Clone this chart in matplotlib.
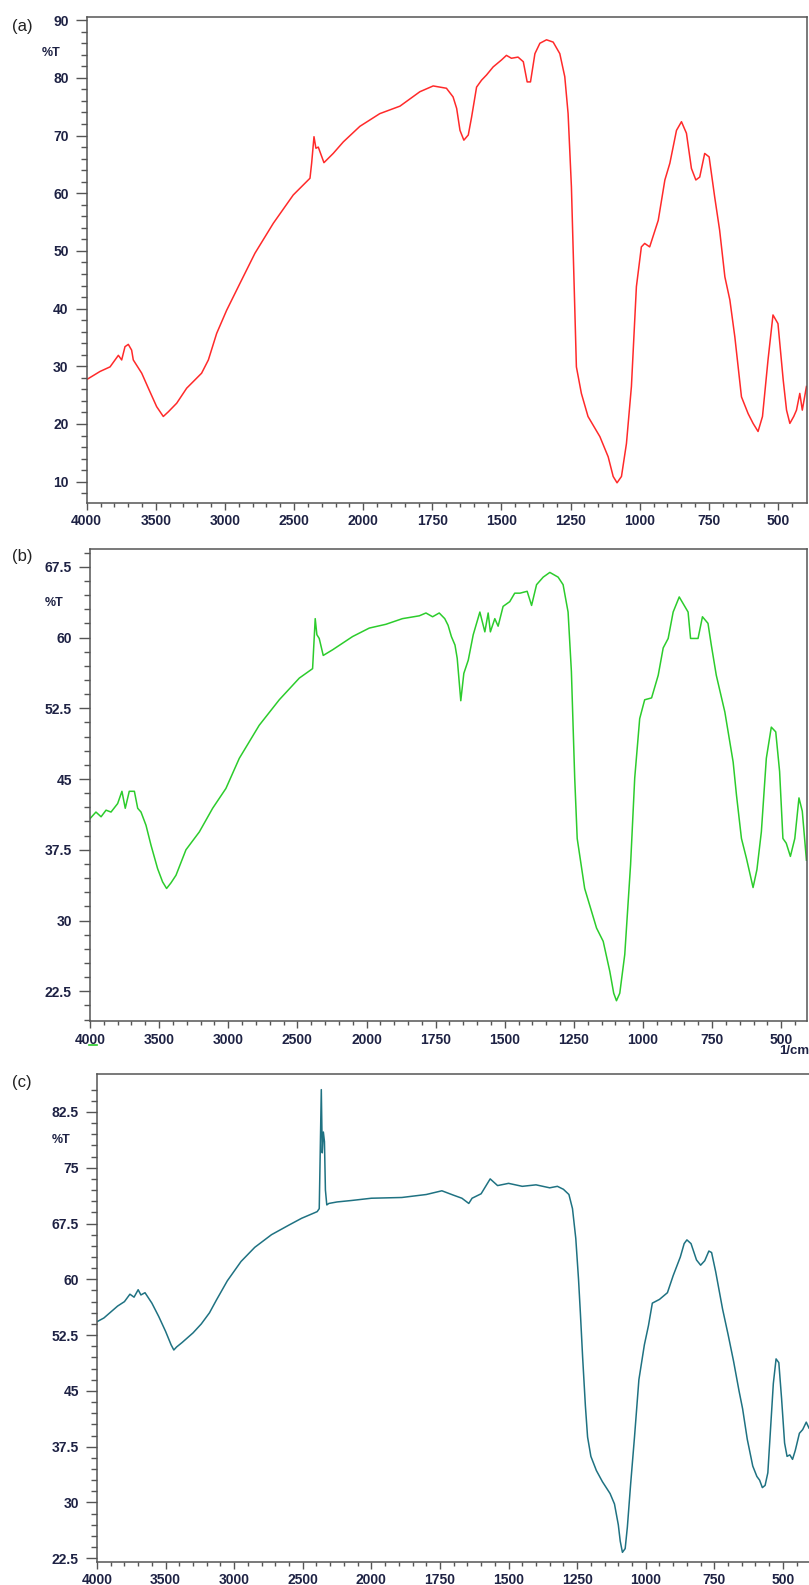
import numpy as np
import matplotlib
matplotlib.use("Agg")
import matplotlib.pyplot as plt
from matplotlib.ticker import FixedLocator, NullFormatter

# ---------------- data ----------------
wn_a = [4000, 3904, 3831, 3771, 3747, 3723, 3699, 3675, 3663, 3602, 3554, 3494, 3446, 3410,
        3349, 3277, 3169, 3120, 3060, 2988, 2891, 2783, 2650, 2506, 2385, 2373, 2356, 2342,
        2325, 2284, 2217, 2144, 2024, 1940, 1867, 1795, 1747, 1723, 1699, 1675, 1662, 1650,
        1636, 1620, 1608, 1590, 1572, 1554, 1530, 1500, 1482, 1464, 1440, 1421, 1407, 1395,
        1379, 1361, 1337, 1313, 1289, 1271, 1259, 1247, 1237, 1229, 1211, 1187, 1144, 1114,
        1096, 1082, 1066, 1048, 1030, 1012, 994, 982, 964, 933, 909, 891, 867, 849, 831, 813,
        797, 783, 765, 749, 729, 711, 692, 674, 656, 632, 608, 590, 572, 556, 536, 518, 500,
        481, 469, 457, 443, 433, 421, 412, 397]
t_a = [27.7, 29.1, 29.9, 31.9, 31.1, 33.4, 33.8, 32.8, 31.1, 28.8, 26.2, 23.0, 21.3, 22.1,
       23.6, 26.2, 28.8, 31.1, 35.7, 39.7, 44.4, 49.6, 54.8, 59.7, 62.6, 65.2, 69.8, 67.8,
       68.0, 65.3, 66.9, 68.9, 71.6, 73.8, 75.1, 77.6, 78.6, 78.4, 78.2, 76.7, 74.7, 70.9,
       69.2, 70.1, 73.2, 78.4, 79.6, 80.5, 81.9, 83.1, 83.9, 83.4, 83.6, 82.8, 79.3, 79.3,
       84.2, 86.0, 86.6, 86.2, 84.2, 80.2, 73.8, 61.1, 43.8, 29.9, 25.3, 21.3, 17.8, 14.3,
       10.9, 9.8, 10.9, 16.6, 26.5, 43.8, 50.7, 51.3, 50.7, 55.3, 62.3, 65.2, 70.9, 72.4,
       70.4, 64.3, 62.3, 62.8, 66.9, 66.3, 59.4, 53.6, 45.5, 41.5, 35.1, 24.7, 21.8, 20.1,
       18.7, 21.3, 31.1, 38.9, 37.4, 27.6, 22.4, 20.1, 21.3, 22.4, 25.3, 22.4, 26.5]

wn_b = [4000, 3957, 3920, 3884, 3848, 3800, 3769, 3745, 3716, 3679, 3655, 3631, 3595, 3559,
        3511, 3475, 3446, 3414, 3378, 3306, 3209, 3113, 3017, 2920, 2776, 2631, 2486, 2390,
        2371, 2359, 2342, 2313, 2245, 2101, 1990, 1930, 1870, 1809, 1785, 1761, 1737, 1717,
        1705, 1693, 1680, 1672, 1659, 1648, 1632, 1614, 1590, 1572, 1560, 1552, 1536, 1524,
        1506, 1482, 1464, 1445, 1419, 1403, 1385, 1361, 1337, 1307, 1289, 1271, 1259, 1247,
        1238, 1211, 1168, 1144, 1120, 1106, 1096, 1084, 1066, 1045, 1030, 1012, 994, 969,
        945, 927, 909, 891, 869, 849, 837, 828, 801, 785, 765, 753, 735, 704, 674, 662, 644,
        626, 612, 602, 588, 572, 554, 536, 520, 506, 494, 482, 467, 451, 436, 424, 409]
t_b = [40.8, 41.5, 41.0, 41.7, 41.5, 42.4, 43.7, 41.9, 43.7, 43.7, 41.9, 41.5, 40.1, 38.0,
       35.5, 34.1, 33.4, 34.0, 34.8, 37.5, 39.4, 41.9, 44.0, 47.2, 50.7, 53.4, 55.7, 56.7,
       62.0, 60.3, 59.9, 58.1, 58.7, 60.1, 61.0, 61.4, 62.0, 62.3, 62.6, 62.2, 62.6, 62.0,
       61.3, 60.1, 59.2, 57.8, 53.3, 56.2, 57.6, 60.3, 62.7, 60.6, 62.6, 60.6, 62.0, 61.2,
       63.3, 63.8, 64.7, 64.7, 64.9, 63.4, 65.6, 66.4, 66.9, 66.4, 65.6, 62.7, 56.4, 45.1,
       38.7, 33.4, 29.2, 27.8, 24.6, 22.3, 21.5, 22.3, 26.4, 35.9, 45.1, 51.4, 53.4, 53.6,
       56.0, 58.9, 59.9, 62.7, 64.3, 63.3, 62.7, 59.9, 59.9, 62.2, 61.5, 59.2, 56.0, 52.1,
       46.8, 43.3, 38.7, 36.6, 34.8, 33.5, 35.4, 39.4, 47.2, 50.5, 50.0, 45.8, 38.7, 38.2,
       36.8, 38.7, 43.0, 41.6, 36.4]

wn_c = [4000, 3950, 3900, 3850, 3800, 3760, 3730, 3700, 3680, 3650, 3600, 3550, 3500, 3460,
        3440, 3420, 3380, 3300, 3240, 3180, 3130, 3050, 2950, 2850, 2728, 2600, 2509, 2420,
        2395, 2380, 2372, 2365, 2358, 2350, 2342, 2335, 2325, 2310, 2250, 2143, 2000, 1889,
        1800, 1743, 1700, 1670, 1645, 1633, 1600, 1567, 1540, 1500, 1450, 1400, 1350, 1322,
        1300, 1280, 1267, 1255, 1245, 1238, 1230, 1220, 1212, 1200, 1180, 1158, 1130, 1114,
        1100, 1093, 1085, 1075, 1067, 1055, 1041, 1025, 1005, 990, 976, 950, 921, 900, 874,
        860, 850, 835, 815, 800, 785, 770, 760, 745, 720, 700, 680, 660, 647, 630, 610, 595,
        585, 575, 565, 555, 545, 535, 525, 515, 505, 494, 485, 475, 465, 455, 440, 428, 415,
        405]
t_c = [54.3, 54.8, 55.6, 56.4, 57.0, 58.0, 57.6, 58.6, 57.9, 58.2, 56.8, 55.0, 53.0, 51.2,
       50.5, 50.9, 51.5, 52.8, 54.0, 55.5, 57.2, 59.8, 62.4, 64.3, 66.0, 67.3, 68.2, 68.9,
       69.1, 69.5, 78.0, 85.5, 77.0, 79.8, 78.5, 72.0, 70.0, 70.2, 70.4, 70.6, 70.9, 71.0,
       71.4, 71.9, 71.3, 70.9, 70.2, 70.9, 71.5, 73.5, 72.6, 72.9, 72.5, 72.7, 72.3, 72.5,
       72.1, 71.4, 69.5, 65.5, 60.0, 55.3, 49.5, 43.0, 38.8, 36.2, 34.3, 32.8, 31.2, 29.8,
       27.0, 24.8, 23.3, 23.8, 26.7, 32.5, 38.8, 46.5, 51.2, 53.8, 56.8, 57.3, 58.2, 60.5,
       63.0, 64.8, 65.3, 64.8, 62.6, 61.9, 62.5, 63.8, 63.6, 61.0, 56.0, 52.6, 49.0, 45.0,
       42.6, 38.5, 34.9, 33.5, 33.0, 32.0, 32.3, 34.0, 40.0, 46.0, 49.3, 48.8, 44.0, 38.0,
       36.2, 36.4, 35.8, 37.0, 39.3, 39.8, 40.8, 40.0]

xmajor = [4000, 3500, 3000, 2500, 2000, 1750, 1500, 1250, 1000, 750, 500]
xminor = list(range(3900, 2000, -100)) + list(range(1950, 400, -50))

ticks_a = [10, 20, 30, 40, 50, 60, 70, 80, 90]
ticks_b = [22.5, 30, 37.5, 45, 52.5, 60, 67.5]
ticks_c = [22.5, 30, 37.5, 45, 52.5, 60, 67.5, 75, 82.5]

# ---------------- styling ----------------
W, H = 809, 1585
fig = plt.figure(figsize=(W / 100, H / 100), dpi=100)
plt.rcParams['font.family'] = ['Liberation Sans', 'DejaVu Sans']

def fwd(w):
    w = np.asarray(w, dtype=float)
    return np.where(w >= 2000, w / 500.0, 4.0 + (w - 2000.0) / 250.0)

def inv(f):
    f = np.asarray(f, dtype=float)
    return np.where(f >= 4, f * 500.0, 2000.0 + (f - 4.0) * 250.0)

def add_axes(l, r, t, b):
    return fig.add_axes([l / W, 1 - b / H, (r - l) / W, (b - t) / H])

tick_color = '#1e2244'
frame_color = '#555555'

def style(ax, yticks, ystep_minor, ylim, xlim=(4000, 395)):
    ax.set_xscale('function', functions=(fwd, inv))
    ax.set_xlim(*xlim)
    ax.set_ylim(*ylim)
    ax.xaxis.set_major_locator(FixedLocator(xmajor))
    ax.xaxis.set_minor_locator(FixedLocator(xminor))
    ax.set_xticklabels([str(v) for v in xmajor])
    ax.xaxis.set_minor_formatter(NullFormatter())
    ax.yaxis.set_major_locator(FixedLocator(yticks))
    mn = np.arange(yticks[0] - 3 * ystep_minor, yticks[-1] + 3 * ystep_minor, ystep_minor)
    ax.yaxis.set_minor_locator(FixedLocator(mn))
    ax.set_yticklabels([('%g' % v) for v in yticks])
    for s in ax.spines.values():
        s.set_color(frame_color)
        s.set_linewidth(1.1)
    ax.tick_params(axis='y', which='major', length=8, width=1.0, color=frame_color,
                   direction='out', pad=5, labelsize=10, labelcolor=tick_color)
    ax.tick_params(axis='y', which='minor', length=4.5, width=1.0, color=frame_color,
                   direction='out')
    ax.tick_params(axis='x', which='major', length=5, width=1.0, color=frame_color,
                   direction='out', pad=3, labelsize=10, labelcolor=tick_color)
    ax.tick_params(axis='x', which='minor', length=3, width=1.0, color=frame_color,
                   direction='out')
    for lab in ax.get_xticklabels() + ax.get_yticklabels():
        lab.set_fontweight('bold')

# ---------------- panel (a) ----------------
ax_a = add_axes(86.7, 807, 17.3, 503)
ax_a.plot(wn_a, t_a, color='#ff2a2a', lw=1.1)
style(ax_a, ticks_a, 2, (6.3, 90.5))
ax_a.text(-0.037, 84.3, '%T', transform=ax_a.get_yaxis_transform(), ha='right', va='center',
          fontsize=9, fontweight='bold', color=tick_color)
fig.text(12 / W, 1 - 26 / H, '(a)', fontsize=12, color='#222222', va='center', ha='left')

# ---------------- panel (b) ----------------
ax_b = add_axes(90, 806.7, 549.3, 1021.5)
ax_b.plot(wn_b, t_b, color='#2ccc2c', lw=1.1)
style(ax_b, ticks_b, 1.5, (19.3, 69.35), xlim=(4000, 408))
ax_b.text(-0.037, 63.65, '%T', transform=ax_b.get_yaxis_transform(), ha='right', va='center',
          fontsize=9, fontweight='bold', color=tick_color)
fig.text(12 / W, 1 - 556 / H, '(b)', fontsize=12, color='#222222', va='center', ha='left')
fig.text(809 / W, 1 - 1045 / H, '1/cm', fontsize=9.5, fontweight='bold', color=tick_color,
         ha='right', va='top')
fig.add_artist(plt.Line2D([89 / W, 97 / W], [1 - 1045 / H, 1 - 1045 / H], color='#2ccc2c', lw=1.2))

# ---------------- panel (c) ----------------
ax_c = add_axes(97, 809, 1074, 1562)
ax_c.plot(wn_c, t_c, color='#1f7282', lw=1.1)
style(ax_c, ticks_c, 1.5, (22.0, 87.6), xlim=(4000, 405))
ax_c.spines['right'].set_visible(False)
ax_c.text(-0.037, 78.7, '%T', transform=ax_c.get_yaxis_transform(), ha='right', va='center',
          fontsize=9, fontweight='bold', color=tick_color)
fig.text(12 / W, 1 - 1083 / H, '(c)', fontsize=12, color='#222222', va='center', ha='left')

fig.savefig('out.png', dpi=100)
